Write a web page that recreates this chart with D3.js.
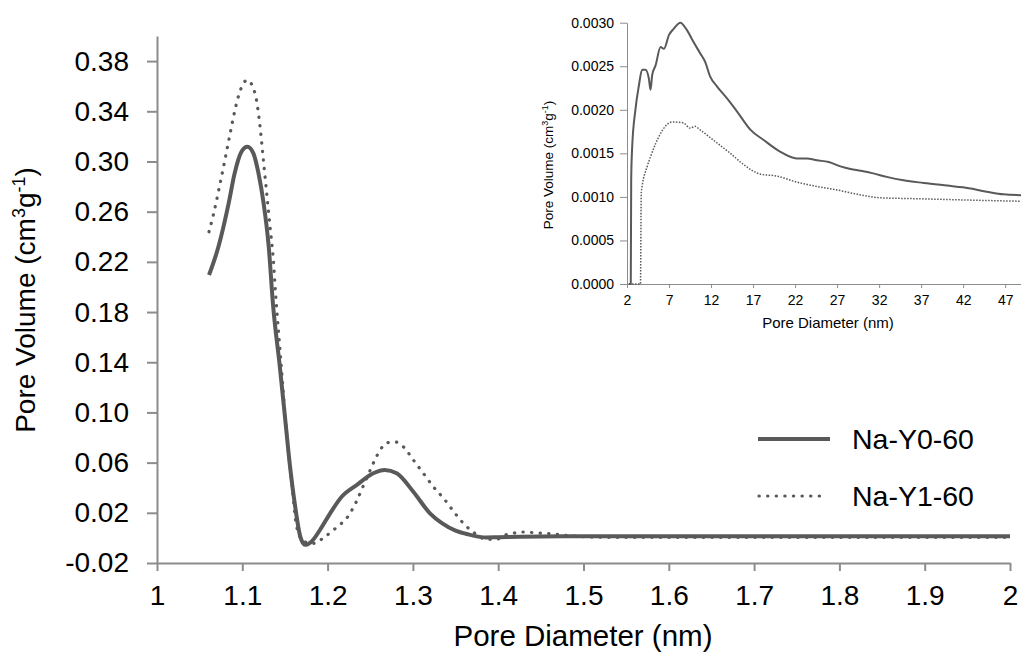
<!DOCTYPE html>
<html lang="en">
<head>
<meta charset="utf-8">
<title>Pore size distribution</title>
<script src="https://d3js.org/d3.v7.min.js"></script>
<style>
  body { margin: 0; background: #fff; }
  svg { display: block; font-family: "Liberation Sans", Arial, sans-serif; }
  .axis path, .axis line { stroke: #8c8c8c; }
  .axis text { fill: #000; font-family: "Liberation Sans", Arial, sans-serif; }
</style>
</head>
<body>
<div class="chart"></div>
<script>

// main plot: Na-Y0-60 (solid)
var y0X = [1.061, 1.072, 1.084, 1.091, 1.099, 1.106, 1.113, 1.119, 1.125, 1.131, 1.136, 1.144, 1.150, 1.156, 1.162, 1.168, 1.1735, 1.181, 1.191, 1.203, 1.2165, 1.234, 1.2536, 1.267, 1.281, 1.3005, 1.32, 1.334, 1.35, 1.365, 1.386, 1.40, 1.425, 1.45, 1.5, 1.6, 1.7, 1.8, 1.9, 2.0];
var y0V = [0.2095, 0.232, 0.2666, 0.2905, 0.3077, 0.3117, 0.3065, 0.2905, 0.2666, 0.232, 0.186, 0.1364, 0.0966, 0.0567, 0.0249, 0.001, -0.0055, -0.003, 0.0063, 0.0196, 0.0328, 0.0421, 0.0515, 0.0541, 0.0515, 0.0368, 0.0196, 0.0118, 0.0058, 0.0028, 0.0003, 0.0005, 0.001, 0.0012, 0.0013, 0.0013, 0.0013, 0.0013, 0.0013, 0.0013];

// main plot: Na-Y1-60 (dotted)
var y1X = [1.061, 1.066, 1.074, 1.080, 1.0856, 1.0914, 1.0965, 1.1059, 1.1149, 1.1208, 1.1247, 1.1286, 1.1325, 1.1364, 1.139, 1.1442, 1.152, 1.158, 1.1637, 1.172, 1.185, 1.195, 1.2106, 1.2243, 1.234, 1.2418, 1.2497, 1.2583, 1.27, 1.2802, 1.2888, 1.3005, 1.3122, 1.324, 1.3376, 1.3493, 1.3623, 1.3701, 1.3865, 1.398, 1.408, 1.4177, 1.4275, 1.447, 1.4685, 1.488, 1.527, 1.6, 1.7, 1.8, 1.9, 2.0];
var y1V = [0.244, 0.2573, 0.2825, 0.3025, 0.3218, 0.341, 0.3543, 0.3649, 0.3543, 0.3277, 0.3011, 0.2746, 0.248, 0.2214, 0.1949, 0.1497, 0.0833, 0.0435, 0.0089, -0.003, -0.0043, 0.0, 0.0084, 0.0175, 0.0294, 0.0414, 0.0536, 0.0661, 0.0759, 0.0764, 0.0727, 0.0621, 0.0515, 0.0408, 0.0302, 0.0196, 0.0095, 0.005, -0.0011, -0.0011, 0.0023, 0.0037, 0.0047, 0.0039, 0.0029, 0.0015, 0.0005, 0.0005, 0.0005, 0.0005, 0.0005, 0.0005];

// inset: Na-Y0-60 (solid)
var inY0X = [2.2, 2.45, 2.5, 2.6, 3.0, 3.4, 3.8, 4.2, 4.6, 4.8, 5.0, 5.4, 6.0, 6.4, 7.0, 7.55, 8.35, 9.1, 9.9, 10.7, 11.3, 11.9, 12.7, 13.9, 15.1, 16.7, 18.3, 20.2, 22.2, 23.4, 24.6, 26.0, 27.4, 28.6, 29.8, 31.3, 32.9, 34.9, 37.3, 40.1, 42.0, 44.8, 46.8, 49.0];
var inY0V = [0, 0, 0.0012, 0.00154, 0.0020, 0.00227, 0.00246, 0.00246, 0.00236, 0.00223, 0.0024, 0.00251, 0.00272, 0.0027, 0.00286, 0.00293, 0.0030, 0.00292, 0.00278, 0.00265, 0.00255, 0.00238, 0.00227, 0.00213, 0.00198, 0.00177, 0.00165, 0.00152, 0.00144, 0.00144, 0.00142, 0.0014, 0.00135, 0.00132, 0.0013, 0.00127, 0.00123, 0.00119, 0.00116, 0.00113, 0.00111, 0.00106, 0.00103, 0.00102];

// inset: Na-Y1-60 (dotted)
var inY1X = [2.6, 3.6, 3.7, 4.4, 4.8, 5.4, 6.0, 6.75, 7.35, 8.7, 9.5, 10.1, 10.7, 12.3, 14.3, 15.9, 17.9, 19.8, 22.2, 24.6, 27.0, 29.4, 32.1, 36.1, 40.1, 44.1, 49.0];
var inY1V = [0, 0, 0.00105, 0.00135, 0.00146, 0.00161, 0.00173, 0.00183, 0.00186, 0.00185, 0.00179, 0.00181, 0.00177, 0.00165, 0.0015, 0.00137, 0.00126, 0.00124, 0.00117, 0.00112, 0.00108, 0.00103, 0.00099, 0.00098, 0.00097, 0.00096, 0.00095];

var xTicks = [1, 1.1, 1.2, 1.3, 1.4, 1.5, 1.6, 1.7, 1.8, 1.9, 2];
var yTicks = [-0.02, 0.02, 0.06, 0.10, 0.14, 0.18, 0.22, 0.26, 0.30, 0.34, 0.38];
var inXTicks = [2, 7, 12, 17, 22, 27, 32, 37, 42, 47];
var inYTicks = [0, 0.0005, 0.0010, 0.0015, 0.0020, 0.0025, 0.0030];
var seriesNames = ["Na-Y0-60", "Na-Y1-60"];

var width = 1021, height = 659;
var lineColor = "#595959";

var svg = d3.select(".chart").append("svg")
    .attr("width", width)
    .attr("height", height);

// ---- main plot ----
var x = d3.scaleLinear().domain([1, 2]).range([157, 1010]);
var y = d3.scaleLinear().domain([-0.02, 0.40]).range([563, 36]);

var yAxis = svg.append("g")
    .attr("class", "axis")
    .attr("transform", "translate(157,0)")
    .call(d3.axisLeft(y).tickValues(yTicks).tickSize(10).tickSizeOuter(0).tickPadding(18)
        .tickFormat(function(d){ return d.toFixed(2); }));
yAxis.selectAll("path, line").attr("stroke-width", 2);
yAxis.selectAll("text").style("font-size", "28px");

var xAxis = svg.append("g")
    .attr("class", "axis")
    .attr("transform", "translate(0,563)")
    .call(d3.axisBottom(x).tickValues(xTicks).tickSize(8).tickSizeOuter(0).tickPadding(14)
        .tickFormat(function(d){ return String(+d.toFixed(1)); }));
xAxis.selectAll("path, line").attr("stroke-width", 2);
xAxis.selectAll("text").style("font-size", "28px");

var line = d3.line()
    .x(function(d){ return x(d[0]); })
    .y(function(d){ return y(d[1]); })
    .curve(d3.curveMonotoneX);

svg.append("path")
    .datum(d3.zip(y0X, y0V))
    .attr("d", line)
    .attr("fill", "none")
    .attr("stroke", lineColor)
    .attr("stroke-width", 4)
    .attr("stroke-linejoin", "round");

svg.append("path")
    .datum(d3.zip(y1X, y1V))
    .attr("d", line)
    .attr("fill", "none")
    .attr("stroke", lineColor)
    .attr("stroke-width", 3.2)
    .attr("stroke-linecap", "round")
    .attr("stroke-dasharray", "0.3 8.3");

// axis titles
svg.append("text")
    .attr("x", 583)
    .attr("y", 646)
    .attr("text-anchor", "middle")
    .style("font-size", "29.5px")
    .text("Pore Diameter (nm)");

var yTitle = svg.append("text")
    .attr("transform", "translate(35,300) rotate(-90)")
    .attr("text-anchor", "middle")
    .style("font-size", "28px");
yTitle.append("tspan").text("Pore Volume (cm");
yTitle.append("tspan").attr("dy", -10).style("font-size", "18px").text("3");
yTitle.append("tspan").attr("dy", 10).text("g");
yTitle.append("tspan").attr("dy", -10).style("font-size", "18px").text("-1");
yTitle.append("tspan").attr("dy", 10).text(")");

// legend
var legend = svg.append("g");
legend.append("line")
    .attr("x1", 758).attr("x2", 830).attr("y1", 439).attr("y2", 439)
    .attr("stroke", lineColor).attr("stroke-width", 4);
legend.append("line")
    .attr("x1", 759).attr("x2", 822).attr("y1", 496).attr("y2", 496)
    .attr("stroke", lineColor).attr("stroke-width", 3.2)
    .attr("stroke-linecap", "round").attr("stroke-dasharray", "0.3 8.3");
legend.selectAll("text")
    .data(seriesNames)
    .enter()
    .append("text")
    .attr("x", 852)
    .attr("y", function(d, i){ return 449 + i * 57; })
    .style("font-size", "28.5px")
    .text(function(d){ return d; });

// ---- inset ----
var ix = d3.scaleLinear().domain([2, 49]).range([627, 1022]);
var iy = d3.scaleLinear().domain([0, 0.003]).range([284, 22.7]);

var iyAxis = svg.append("g")
    .attr("class", "axis")
    .attr("transform", "translate(627,0)")
    .call(d3.axisLeft(iy).tickValues(inYTicks).tickSize(7).tickSizeOuter(0).tickPadding(6)
        .tickFormat(function(d){ return d.toFixed(4); }));
iyAxis.selectAll("path, line").attr("stroke", "#a6a6a6");
iyAxis.selectAll("text").style("font-size", "14px");

var ixAxis = svg.append("g")
    .attr("class", "axis")
    .attr("transform", "translate(0,284)")
    .call(d3.axisBottom(ix).tickValues(inXTicks).tickSize(4).tickSizeOuter(0).tickPadding(7));
ixAxis.selectAll("path, line").attr("stroke", "#a6a6a6");
ixAxis.selectAll("text").style("font-size", "14px");

var iline = d3.line()
    .x(function(d){ return ix(d[0]); })
    .y(function(d){ return iy(d[1]); })
    .curve(d3.curveMonotoneX);

svg.append("path")
    .datum(d3.zip(inY0X, inY0V))
    .attr("d", iline)
    .attr("fill", "none")
    .attr("stroke", lineColor)
    .attr("stroke-width", 2)
    .attr("stroke-linejoin", "round");

svg.append("path")
    .datum(d3.zip(inY1X, inY1V))
    .attr("d", iline)
    .attr("fill", "none")
    .attr("stroke", lineColor)
    .attr("stroke-width", 1.5)
    .attr("stroke-dasharray", "1.5 1.5");

svg.append("text")
    .attr("x", 828)
    .attr("y", 328)
    .attr("text-anchor", "middle")
    .style("font-size", "15px")
    .text("Pore Diameter (nm)");

var iyTitle = svg.append("text")
    .attr("transform", "translate(553,165) rotate(-90)")
    .attr("text-anchor", "middle")
    .style("font-size", "13.5px");
iyTitle.append("tspan").text("Pore Volume (cm");
iyTitle.append("tspan").attr("dy", -5).style("font-size", "9px").text("3");
iyTitle.append("tspan").attr("dy", 5).text("g");
iyTitle.append("tspan").attr("dy", -5).style("font-size", "9px").text("-1");
iyTitle.append("tspan").attr("dy", 5).text(")");

</script>
</body>
</html>
